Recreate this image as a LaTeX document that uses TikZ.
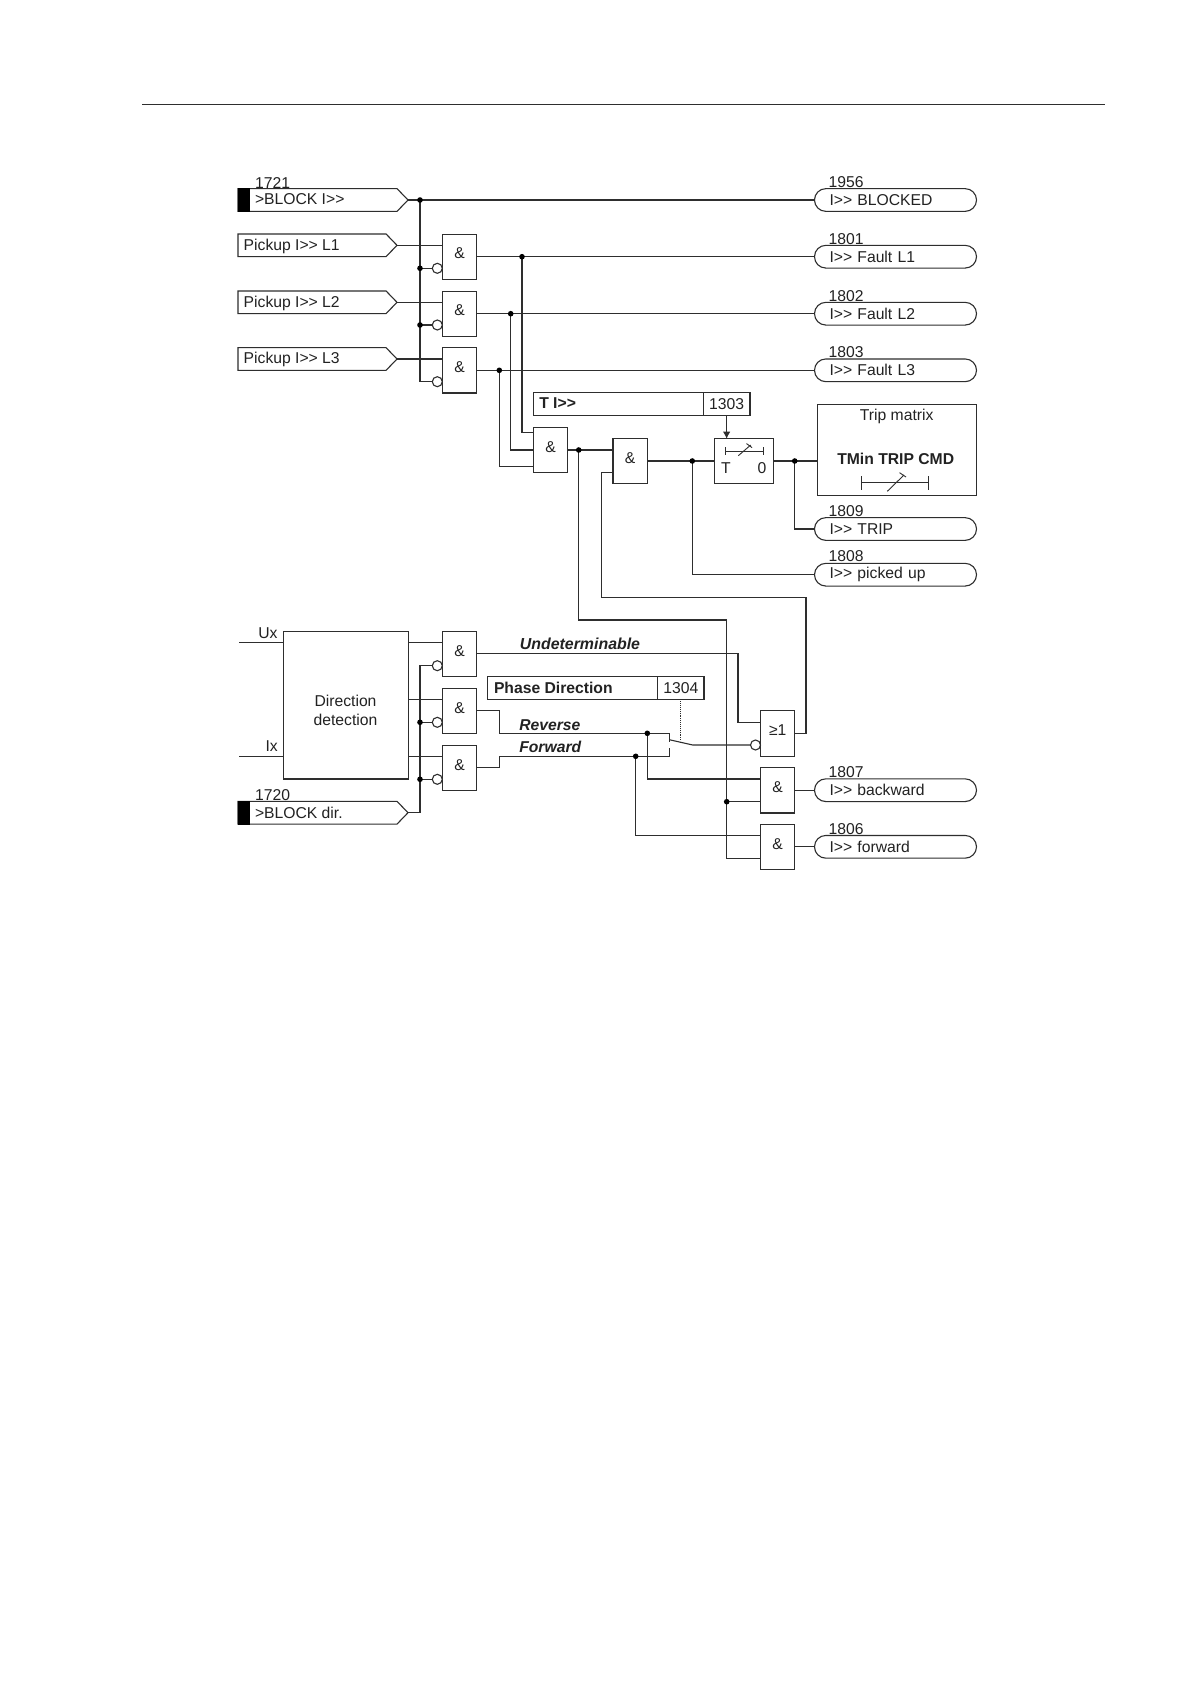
\documentclass[tikz,border=0pt]{standalone}
\usepackage{fontspec}
\setmainfont{Liberation Sans}
\usetikzlibrary{shapes.symbols,arrows.meta}
\definecolor{ln}{HTML}{2E2E2E}
\definecolor{tx}{HTML}{222222}
\newcommand{\amp}{\raisebox{6.4pt}{\&}}
\newcommand{\GG}{>{}>}
\tikzset{
  every node/.style={font=\fontsize{15.7}{18}\selectfont,text=tx,outer sep=0pt},
  wire/.style={draw=ln,line width=1.1pt},
  gate/.style={draw=ln,line width=1.1pt,fill=white,minimum width=34.4pt,minimum height=45.3pt,inner sep=0pt},
  neg/.style={circle,draw=ln,line width=1.1pt,fill=white,minimum size=10pt,inner sep=0pt},
  dot/.style={circle,fill=black,minimum size=5.6pt,inner sep=0pt},
  lab/.style={inner sep=0pt,text height=11.3pt,text depth=0pt,anchor=west},
  sigA/.style={signal,signal to=east,signal from=nowhere,signal pointer angle=92,draw=ln,line width=1.1pt,fill=white,minimum height=22.7pt,inner sep=0pt,minimum width=170pt},
  sigB/.style={sigA,minimum width=159pt},
  blk/.style={fill=black,minimum width=11.5pt,minimum height=23.6pt,inner sep=0pt},
  outbox/.style={draw=ln,line width=1.1pt,rounded corners=11.3pt,minimum height=22.7pt,text width=132pt,inner xsep=15pt,inner ysep=0pt,align=left,minimum width=162pt},
  plain/.style={draw=ln,line width=1.1pt,inner sep=0pt},
}
\begin{document}
\begin{tikzpicture}[x=1pt,y=-1pt]
\useasboundingbox (0,0) rectangle (1190,1684);
\fill[white] (0,0) rectangle (1190,1684);

% top rule
\coordinate (ruleL) at (142,104);
\coordinate (ruleR) at (1105,104);
\draw[wire,line width=0.9pt] (ruleL) -- (ruleR);

% coordinates of free pins
\coordinate (g4a) at (533.3,432.7);
\coordinate (g4b) at (533.3,450);
\coordinate (g4c) at (533.3,466.7);
\coordinate (g5a) at (613,450);
\coordinate (g5c) at (613,472.7);
\coordinate (n1) at (601.3,597.3);
\coordinate (n2) at (806,597.3);
\coordinate (n3) at (806,733.3);
\coordinate (m1) at (726.7,620);
\coordinate (g9a) at (760.7,779);
\coordinate (g9b) at (760.7,801.7);
\coordinate (g10a) at (760.7,835.7);
\coordinate (g10b) at (760.7,858.3);
\coordinate (gea) at (760.7,722.3);
\coordinate (u1) at (738,653.7);
\coordinate (rv1) at (499.3,710.7);
\coordinate (rv2) at (499.3,733.3);
\coordinate (fw1) at (499.3,767.3);
\coordinate (fw2) at (499.3,756.3);
\coordinate (sw1) at (669.3,733.3);
\coordinate (sw2) at (669.3,756.3);
\coordinate (sw3) at (669.3,739.7);
\coordinate (sw4) at (692.7,745);
\coordinate (sw1e) at (669.3,742);
\coordinate (sw2e) at (669.3,748);
\coordinate (ux0) at (239,642.7);
\coordinate (ix0) at (239,756.3);
\coordinate (d1) at (408.3,642.7);
\coordinate (d2) at (408.3,699.3);
\coordinate (d3) at (408.3,756.3);
\coordinate (dsw) at (680.85,741);
\coordinate (ge1) at (794.7,733.3);

% output boxes
\node[outbox] (r0) at (895.5,200) {I\GG{} BLOCKED};
\node[outbox] (r1) at (895.5,256.7) {I\GG{} Fault L1};
\node[outbox] (r2) at (895.5,313.7) {I\GG{} Fault L2};
\node[outbox] (r3) at (895.5,370.3) {I\GG{} Fault L3};
\node[outbox] (r4) at (895.5,529) {I\GG{} TRIP};
\node[outbox] (r5) at (895.5,574.7) {I\GG{} picked up};
\node[outbox] (r6) at (895.5,790.2) {I\GG{} backward};
\node[outbox] (r7) at (895.5,846.8) {I\GG{} forward};

% input signals
\node[sigA,anchor=east] (s0) at (408,200) {};
\node[blk,anchor=west] (b0) at (238,200) {};
\node[lab] (s0t) at (255,199.3) {>BLOCK I\GG};
\node[sigB,anchor=east] (p1) at (397,245.3) {};
\node[lab] (p1t) at (243.7,244.7) {Pickup I\GG{} L1};
\node[sigB,anchor=east] (p2) at (397,302.3) {};
\node[lab] (p2t) at (243.7,301.5) {Pickup I\GG{} L2};
\node[sigB,anchor=east] (p3) at (397,359) {};
\node[lab] (p3t) at (243.7,358.2) {Pickup I\GG{} L3};
\node[sigA,anchor=east] (s1) at (408,812.7) {};
\node[blk,anchor=west] (b1) at (238,812.7) {};
\node[lab] (s1t) at (255,812.7) {>BLOCK dir.};

% numbers
\node[lab] (n1721) at (255.2,182.7) {1721};
\node[lab] (n1720) at (255.2,795.3) {1720};
\node[lab] (n1956) at (828.6,182) {1956};
\node[lab] (n1801) at (828.6,239) {1801};
\node[lab] (n1802) at (828.6,295.7) {1802};
\node[lab] (n1803) at (828.6,352.2) {1803};
\node[lab] (n1809) at (828.6,510.7) {1809};
\node[lab] (n1808) at (828.6,556) {1808};
\node[lab] (n1807) at (828.6,772) {1807};
\node[lab] (n1806) at (828.6,828.5) {1806};

% gates
\node[gate] (g1) at (459.5,256.7) {\amp};
\node[gate] (g2) at (459.5,313.7) {\amp};
\node[gate] (g3) at (459.5,370.3) {\amp};
\node[gate] (g4) at (550.5,450) {\amp};
\node[gate] (g5) at (630.2,461) {\amp};
\node[gate] (g6) at (459.5,654) {\amp};
\node[gate] (g7) at (459.5,710.8) {\amp};
\node[gate] (g8) at (459.5,767.8) {\amp};
\node[gate] (ge) at (777.7,733.5) {\raisebox{6pt}{≥1}};
\node[gate] (g9) at (777.7,790.3) {\amp};
\node[gate] (g10) at (777.7,846.8) {\amp};

% timer and trip matrix
\node[gate,minimum width=59pt,minimum height=44.6pt] (tm) at (743.8,461) {};
\node[lab,anchor=center] (tmT) at (726,468) {T};
\node[lab,anchor=center] (tm0) at (762,468) {0};
\node[plain,minimum width=159.4pt,minimum height=91pt] (trip) at (897,449.8) {};
\node[lab,anchor=center] (tript) at (896.7,414.6) {Trip matrix};
\node[lab,anchor=center,font=\fontsize{15.7}{18}\selectfont\bfseries] (tmin) at (895.7,459.3) {TMin TRIP CMD};

% setting boxes
\node[plain,minimum width=170pt,minimum height=22.7pt] (tb) at (618.3,404) {};
\node[plain,minimum width=46.7pt,minimum height=22.7pt] (tn) at (726.65,404) {1303};
\node[lab,font=\fontsize{15.7}{18}\selectfont\bfseries] (tbt) at (539.3,403.3) {T I\GG};
\node[plain,minimum width=170pt,minimum height=22.7pt] (pb) at (572.7,688) {};
\node[plain,minimum width=46.3pt,minimum height=22.7pt] (pn) at (680.85,688) {1304};
\node[lab,font=\fontsize{15.7}{18}\selectfont\bfseries] (pbt) at (494,687.7) {Phase Direction};

% direction block
\node[plain,minimum width=125pt,minimum height=147.3pt] (dir) at (345.8,705.3) {};
\node[inner sep=0pt,align=center] (dirt) at (345.5,710.5) {Direction\\[1.3pt]detection};
\node[lab,anchor=center] (ux) at (268,632.7) {Ux};
\node[lab,anchor=center] (ix) at (271.7,746.3) {Ix};

% signal labels
\node[lab,anchor=center,font=\fontsize{15.9}{18}\selectfont\bfseries\itshape] (und) at (580,644) {Undeterminable};
\node[lab,font=\fontsize{15.7}{18}\selectfont\bfseries\itshape] (rev) at (519.3,725) {Reverse};
\node[lab,font=\fontsize{15.7}{18}\selectfont\bfseries\itshape] (fwd) at (519.3,747) {Forward};

% negation circles
\node[neg] (c1) at (437.3,268.3) {};
\node[neg] (c2) at (437.3,325) {};
\node[neg] (c3) at (437.3,381.7) {};
\node[neg] (c6) at (437.3,665.7) {};
\node[neg] (c7) at (437.3,722.3) {};
\node[neg] (c8) at (437.3,779.3) {};
\node[neg] (ce) at (755.5,745) {};

% connectors
\coordinate (j0) at (420,200);
\coordinate (j7) at (420,722.3);
\draw[wire] (s0.east) -- (r0.west);
\draw[wire] (j0) -- (j0 |- c3) -- (c3.west);
\draw[wire] (j0 |- c1) -- (c1.west);
\draw[wire] (j0 |- c2) -- (c2.west);
\draw[wire] (p1.east) -- (p1.east -| g1.west);
\draw[wire] (p2.east) -- (p2.east -| g2.west);
\draw[wire] (p3.east) -- (p3.east -| g3.west);
\draw[wire] (g1.east) -- (r1.west);
\draw[wire] (g2.east) -- (r2.west);
\draw[wire] (g3.east) -- (r3.west);
\coordinate (a1) at (522,256.7);
\coordinate (a2) at (510.7,313.7);
\coordinate (a3) at (499.3,370.3);
\coordinate (a4) at (578.7,450);
\coordinate (a5) at (726.7,801.7);
\coordinate (a6) at (692.3,461);
\coordinate (a7) at (794.7,461);
\coordinate (rj) at (647.3,733.3);
\coordinate (fj) at (635.7,756.3);
\draw[wire] (a1) |- (g4a);
\draw[wire] (a2) |- (g4b);
\draw[wire] (a3) |- (g4c);
\draw[wire] (g4.east) -- (g5a);
\draw[wire] (g5.east) -- (tm.west);
\draw[wire] (tm.east) -- (tm.east -| trip.west);
\draw[wire] (a7) |- (r4.west);
\draw[wire] (a6) |- (r5.west);
\draw[wire] (g5c) -- (g5c -| n1) -- (n1) -- (n2) -- (n3) -- (ge1);
\draw[wire] (a4) |- (m1) -- (m1 |- g10b) -- (g10b);
\draw[wire] (a5) -- (g9b);
\draw[wire,-{Latex[length=7pt,width=7.5pt]}] (tn.south) -- (tn.south |- tm.north);
% direction part
\draw[wire] (ux0) -- (ux0 -| dir.west);
\draw[wire] (ix0) -- (ix0 -| dir.west);
\draw[wire] (d1) -- (d1 -| g6.west);
\draw[wire] (d2) -- (d2 -| g7.west);
\draw[wire] (d3) -- (d3 -| g8.west);
\draw[wire] (c6.west) -- (c6.west -| j7) -- (j7 |- s1.east) -- (s1.east);
\draw[wire] (j7) -- (c7.west);
\draw[wire] (j7 |- c8) -- (c8.west);
\draw[wire] (g6.east |- u1) -- (u1) -- (u1 |- gea) -- (gea);
\draw[wire] (g7.east |- rv1) -- (rv1) -- (rv2) -- (sw1) -- (sw1e);
\draw[wire] (g8.east |- fw1) -- (fw1) -- (fw2) -- (sw2) -- (sw2e);
\draw[wire] (sw3) -- (sw4) -- (ce.west);
\draw[wire,line width=0.9pt,densely dotted] (pn.south) -- (dsw);
\draw[wire] (rj) |- (g9a);
\draw[wire] (fj) |- (g10a);
\draw[wire] (g9.east |- r6.west) -- (r6.west);
\draw[wire] (g10.east |- r7.west) -- (r7.west);

% junctions
\node[dot] (dj0) at (j0) {};
\node[dot] (dj1) at (j0 |- c1) {};
\node[dot] (dj2) at (j0 |- c2) {};
\node[dot] (dj7) at (j7) {};
\node[dot] (dj8) at (j7 |- c8) {};
\node[dot] (da1) at (a1) {};
\node[dot] (da2) at (a2) {};
\node[dot] (da3) at (a3) {};
\node[dot] (da4) at (a4) {};
\node[dot] (da5) at (a5) {};
\node[dot] (da6) at (a6) {};
\node[dot] (da7) at (a7) {};
\node[dot] (drj) at (rj) {};
\node[dot] (dfj) at (fj) {};

% timer contact symbol
\draw[line width=0.9pt,draw=ln] (725.7,447.3) -- (725.7,455.3) (725.7,451.3) -- (763.3,451.3) (763.3,447.3) -- (763.3,455.3);
\draw[line width=0.9pt,draw=ln] (738.3,455.7) -- (750.7,445) (746.5,443.6) -- (752,447.6);
% trip matrix contact symbol
\draw[line width=0.9pt,draw=ln] (861.7,476) -- (861.7,489.5) (861.7,482.7) -- (928.3,482.7) (928.3,476) -- (928.3,489.5);
\draw[line width=0.9pt,draw=ln] (887.3,491.3) -- (904,475) (899.5,472.7) -- (906,477);
\end{tikzpicture}
\end{document}
